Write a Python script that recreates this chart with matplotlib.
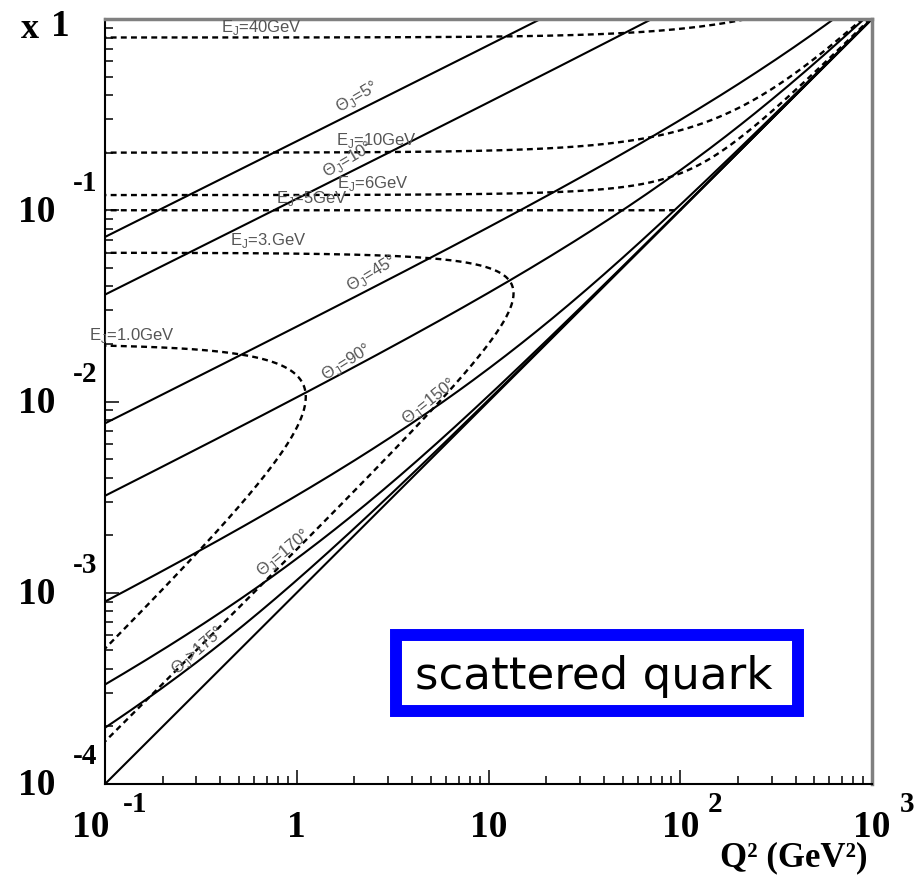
import numpy as np
import matplotlib.pyplot as plt
import matplotlib.transforms as mtransforms
from matplotlib.patches import Rectangle

# beam energies (GeV) -> s = 4 Ee Ep = 1000 GeV^2
E_e = 5.0
E_p = 50.0
s = 4 * E_e * E_p

# quark angles (deg, from proton direction) and quark energies (GeV)
jet_angles = [5, 10, 45, 90, 150, 170, 175]
jet_energies = [1, 3, 5, 6, 10, 40]

angle_labels = ['5°', '10°', '45°', '90°', '150°', '170°', '175°']
angle_ops = ['=', '=', '=', '=', '=', '=', '>']
angle_lab_q2 = [2.06, 1.85, 2.47, 1.81, 4.9, 0.85, 0.305]
angle_lab_x = [0.396, 0.185, 0.047, 0.0163, 0.0101, 0.00163, 0.000502]

energy_labels = ['1.0GeV', '3.GeV', '5GeV', '6GeV', '10GeV', '40GeV']
energy_lab_q2 = [0.138, 0.708, 1.20, 2.50, 2.59, 0.651]
energy_lab_x = [0.0225, 0.0699, 0.116, 0.1405, 0.233, 0.919]

xtick_vals = [0.1, 1, 10, 100, 1000]
xtick_base = ['10', '1', '10', '10', '10']
xtick_exp = ['-1', '', '', '2', '3']
ytick_vals = [1, 1e-1, 1e-2, 1e-3, 1e-4]
ytick_base = ['1', '10', '10', '10', '10']
ytick_exp = ['', '-1', '-2', '-3', '-4']


def angle_line(theta):
    th = np.radians(theta)
    c = 1 - np.cos(th)
    s2 = np.sin(th) ** 2
    y = np.concatenate([np.geomspace(1e-7, 0.5, 600), 1 - np.geomspace(0.5, 1e-7, 600)])
    q2 = 4 * E_e**2 * y**2 * s2 / (c**2 * (1 - y))
    x = q2 / (s * y)
    return q2, x


def energy_line(E):
    umax = min(2.0, 2 * E_e / E)
    u = umax * np.concatenate([np.geomspace(1e-10, 0.5, 800), 1 - np.geomspace(0.5, 1e-10, 800)])
    y = E * u / (2 * E_e)
    q2 = E**2 * u * (2 - u) / (1 - y)
    x = q2 / (s * y)
    m = x < 3
    return q2[m], x[m]


W, H = 922, 879
fig = plt.figure(figsize=(W / 100, H / 100), dpi=100)
ax = fig.add_axes([105 / W, 1 - 785 / H, 767 / W, 765 / H])
ax.set_xscale('log')
ax.set_yscale('log')
ax.set_xlim(0.1, 1000)
ax.set_ylim(1e-4, 1)

lw = 1.5
lines = {}
for th in jet_angles:
    q2, x = angle_line(th)
    lines[th] = (q2, x)
    ax.plot(q2, x, color='black', lw=lw)

for E in jet_energies:
    q2, x = energy_line(E)
    ax.plot(q2, x, color='black', lw=1.7, ls=(0, (2.5, 1.8)))

# kinematic limit y = 1
q2_lim = np.array([0.1, s])
ax.plot(q2_lim, q2_lim / s, color='black', lw=lw)

lab_kw = dict(color='#555555', fontsize=12, family='Liberation Sans',
              ha='center', va='center', rotation_mode='anchor')


def local_angle(q2, x, at):
    i = np.argmin(np.abs(np.log10(q2) - np.log10(at)))
    j0, j1 = max(i - 5, 0), min(i + 5, len(q2) - 1)
    p1 = ax.transData.transform((q2[j0], x[j0]))
    p2 = ax.transData.transform((q2[j1], x[j1]))
    return np.degrees(np.arctan2(p2[1] - p1[1], p2[0] - p1[0]))


for th, lab, op, lq, lx in zip(jet_angles, angle_labels, angle_ops, angle_lab_q2, angle_lab_x):
    rot = local_angle(*lines[th], lq) + 4
    ax.text(lq, lx, 'Θ$_\\mathregular{J}$' + op + lab, rotation=rot, clip_on=False, **lab_kw)

for lab, lq, lx in zip(energy_labels, energy_lab_q2, energy_lab_x):
    ax.text(lq, lx, 'E$_\\mathregular{J}$=' + lab, clip_on=False, **lab_kw)

# axes styling
ax.tick_params(which='both', direction='in', top=False, right=False,
               labelbottom=False, labelleft=False, width=1.1, color='black')
ax.tick_params(which='major', length=10)
ax.tick_params(which='minor', length=6)
for sp in ['left', 'bottom']:
    ax.spines[sp].set_linewidth(1.5)
for sp in ['top', 'right']:
    ax.spines[sp].set_linewidth(2.5)
    ax.spines[sp].set_color('#808080')

# tick labels, ROOT style
tk = dict(family='Liberation Serif', weight='bold', ha='center', va='center')
tx = mtransforms.blended_transform_factory(ax.transData, fig.transFigure)
for v, b, e in zip(xtick_vals, xtick_base, xtick_exp):
    dx = -14 if e == '-1' else 0
    fig.text(v, 1 - 828 / H, b, fontsize=27,
             transform=mtransforms.offset_copy(tx, fig=fig, x=dx, y=0, units='dots'), **tk)
    if e:
        ex = 30 if e == '-1' else 35
        fig.text(v, 1 - 805 / H, e, fontsize=21,
                 transform=mtransforms.offset_copy(tx, fig=fig, x=ex, y=0, units='dots'), **tk)

ty = mtransforms.blended_transform_factory(fig.transFigure, ax.transData)
for v, b, e in zip(ytick_vals, ytick_base, ytick_exp):
    if b == '1':
        fig.text(60 / W, v, b, fontsize=27,
                 transform=mtransforms.offset_copy(ty, fig=fig, x=0, y=-6, units='dots'), **tk)
    else:
        fig.text(37 / W, v, b, fontsize=27,
                 transform=mtransforms.offset_copy(ty, fig=fig, x=0, y=-1, units='dots'), **tk)
        fig.text(85 / W, v, e, fontsize=21,
                 transform=mtransforms.offset_copy(ty, fig=fig, x=0, y=28, units='dots'), **tk)

fig.text(30 / W, 1 - 29 / H, 'x', fontsize=26, **tk)
fig.text(794 / W, 1 - 858 / H, 'Q² (GeV²)', fontsize=25, **tk)

# boxed caption
fig.add_artist(Rectangle((396 / W, 1 - 712 / H), 402 / W, 76 / H, transform=fig.transFigure,
                         facecolor='white', edgecolor='#0000ff', lw=8.6, zorder=5))
fig.text(594 / W, 1 - 677 / H, 'scattered quark', fontsize=32.5, family='DejaVu Sans',
         ha='center', va='center', zorder=6)

fig.savefig('out.png', dpi=100)
